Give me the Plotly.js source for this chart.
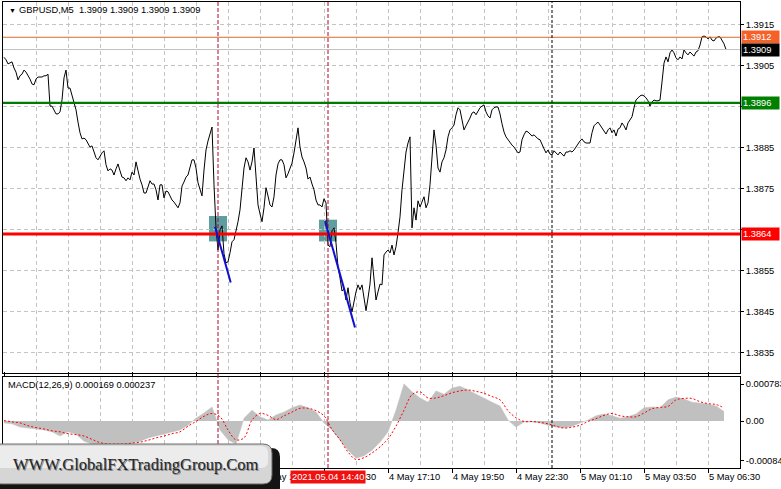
<!DOCTYPE html>
<html><head><meta charset="utf-8">
<script src="https://cdn.plot.ly/plotly-3.0.1.min.js"></script>
<style>html,body{margin:0;padding:0;background:#fff;}#chart{width:781px;height:489px;}</style>
</head><body><div id="chart"></div>
<script>
// ---------------- DATA ----------------
const symbolHeader = 'GBPUSD,M5  1.3909 1.3909 1.3909 1.3909';
const macdHeader = 'MACD(12,26,9) 0.000169 0.000237';
const watermarkText = 'WWW.GlobalFXTradingGroup.Com';
const firstBarUTC = Date.UTC(2021, 4, 4, 1, 10); // 4 May 2021 01:10
const barMinutes = 5;

// M5 close prices, one per bar from 4 May 01:10
const closes = [
1.39071,1.39065,1.39055,1.39057,1.39060,1.39045,1.39035,1.39016,1.39026,1.39030,
1.39040,1.39035,1.39028,1.39018,1.39006,1.39004,1.39018,1.39023,1.39023,1.39023,
1.39026,1.39026,1.39030,1.38952,1.38952,1.38943,1.38933,1.38933,1.38938,1.38967,
1.39021,1.39040,1.38996,1.38996,1.38977,1.38957,1.38943,1.38913,1.38887,1.38872,
1.38874,1.38870,1.38860,1.38852,1.38855,1.38838,1.38826,1.38821,1.38830,1.38838,
1.38843,1.38809,1.38794,1.38799,1.38796,1.38784,1.38799,1.38811,1.38794,1.38779,
1.38777,1.38770,1.38777,1.38772,1.38791,1.38784,1.38816,1.38791,1.38774,1.38760,
1.38740,1.38740,1.38753,1.38770,1.38762,1.38762,1.38748,1.38723,1.38760,1.38760,
1.38728,1.38745,1.38743,1.38731,1.38723,1.38718,1.38711,1.38704,1.38716,1.38757,
1.38767,1.38779,1.38784,1.38806,1.38821,1.38821,1.38801,1.38765,1.38748,1.38733,
1.38796,1.38845,1.38867,1.38884,1.38901,1.38760,1.38655,1.38601,1.38650,1.38660,
1.38592,1.38570,1.38572,1.38594,1.38621,1.38626,1.38645,1.38670,1.38699,1.38760,
1.38801,1.38826,1.38816,1.38796,1.38816,1.38850,1.38791,1.38711,1.38689,1.38670,
1.38704,1.38753,1.38733,1.38711,1.38706,1.38731,1.38784,1.38811,1.38821,1.38821,
1.38809,1.38777,1.38787,1.38801,1.38813,1.38838,1.38870,1.38899,1.38852,1.38828,
1.38816,1.38801,1.38774,1.38779,1.38762,1.38748,1.38723,1.38711,1.38711,1.38706,
1.38726,1.38716,1.38613,1.38609,1.38648,1.38655,1.38618,1.38560,1.38533,1.38501,
1.38506,1.38479,1.38509,1.38472,1.38450,1.38479,1.38499,1.38516,1.38504,1.38516,
1.38489,1.38453,1.38484,1.38518,1.38582,1.38531,1.38479,1.38499,1.38518,1.38516,
1.38589,1.38596,1.38601,1.38594,1.38613,1.38589,1.38609,1.38643,1.38682,1.38748,
1.38801,1.38840,1.38862,1.38877,1.38655,1.38704,1.38674,1.38721,1.38706,1.38718,
1.38731,1.38704,1.38716,1.38760,1.38840,1.38894,1.38857,1.38801,1.38791,1.38816,
1.38826,1.38845,1.38877,1.38894,1.38899,1.38906,1.38931,1.38948,1.38943,1.38918,
1.38894,1.38904,1.38913,1.38923,1.38935,1.38938,1.38931,1.38940,1.38948,1.38952,
1.38955,1.38938,1.38928,1.38923,1.38943,1.38948,1.38950,1.38950,1.38933,1.38909,
1.38889,1.38877,1.38870,1.38862,1.38857,1.38852,1.38845,1.38838,1.38840,1.38870,
1.38882,1.38891,1.38889,1.38884,1.38879,1.38882,1.38877,1.38872,1.38870,1.38857,
1.38848,1.38838,1.38845,1.38835,1.38833,1.38843,1.38838,1.38833,1.38840,1.38835,
1.38830,1.38840,1.38840,1.38843,1.38840,1.38845,1.38852,1.38862,1.38867,1.38872,
1.38865,1.38862,1.38862,1.38862,1.38887,1.38904,1.38909,1.38913,1.38906,1.38899,
1.38894,1.38884,1.38894,1.38899,1.38887,1.38894,1.38879,1.38896,1.38899,1.38911,
1.38904,1.38894,1.38911,1.38918,1.38926,1.38948,1.38967,1.38972,1.38977,1.38979,
1.38977,1.38972,1.38965,1.38952,1.38962,1.38967,1.38965,1.38965,1.38967,1.39011,
1.39057,1.39072,1.39060,1.39082,1.39089,1.39082,1.39070,1.39065,1.39072,1.39067,
1.39089,1.39082,1.39077,1.39084,1.39079,1.39074,1.39084,1.39087,1.39101,1.39121,
1.39123,1.39121,1.39116,1.39121,1.39113,1.39111,1.39118,1.39121,1.39121,1.39113,
1.39104,1.39090
];

// MACD(12,26,9), read every 4th bar
const macdEvery = 4;
const macdMain = [
-0.00004,-0.00006,-0.00013,-0.00015,-0.00017,-0.00019,-0.00023,-0.00032,-0.00023,-0.00028,
-0.00043,-0.00049,-0.00053,-0.00055,-0.00055,-0.00053,-0.00047,-0.00043,-0.00036,-0.00032,
-0.00028,-0.00023,-0.00019,-0.00009,0.00006,0.00017,0.00030,-0.00019,-0.00040,-0.00049,
0.00006,0.00023,0.00009,0.00002,0.00013,0.00019,0.00028,0.00034,0.00028,0.00019,
-0.00004,-0.00019,-0.00040,-0.00062,-0.00079,-0.00074,-0.00062,-0.00045,-0.00023,0.00023,
0.00079,0.00062,0.00049,0.00040,0.00064,0.00057,0.00070,0.00074,0.00066,0.00057,
0.00049,0.00040,0.00032,0.00002,-0.00013,-0.00002,-0.00002,-0.00004,-0.00009,-0.00013,
-0.00015,-0.00011,-0.00004,0.00002,0.00011,0.00015,0.00011,0.00006,0.00009,0.00015,
0.00028,0.00030,0.00028,0.00045,0.00051,0.00047,0.00040,0.00038,0.00036,0.00032,
0.00020
];
const macdSignal = [
0.00001,-0.00002,-0.00004,-0.00010,-0.00014,-0.00017,-0.00021,-0.00023,-0.00027,-0.00029,
-0.00032,-0.00039,-0.00046,-0.00049,-0.00049,-0.00049,-0.00047,-0.00045,-0.00041,-0.00036,
-0.00032,-0.00027,-0.00023,-0.00011,-0.00001,0.00010,0.00016,0.00009,-0.00019,-0.00040,
-0.00036,0.00002,0.00016,0.00012,0.00003,0.00011,0.00019,0.00027,0.00027,0.00022,
0.00011,-0.00018,-0.00040,-0.00066,-0.00082,-0.00078,-0.00068,-0.00055,-0.00038,-0.00011,
0.00023,0.00056,0.00062,0.00049,0.00049,0.00054,0.00060,0.00064,0.00066,0.00063,
0.00059,0.00052,0.00045,0.00022,0.00007,-0.00001,-0.00001,-0.00003,-0.00006,-0.00011,
-0.00015,-0.00013,-0.00009,-0.00001,0.00005,0.00012,0.00016,0.00011,0.00009,0.00009,
0.00017,0.00026,0.00029,0.00031,0.00045,0.00048,0.00048,0.00041,0.00037,0.00035,
0.00028
];

// horizontal price levels
const levelPrices = [1.3912, 1.3909, 1.3896, 1.3864];
const levelTexts  = ['1.3912', '1.3909', '1.3896', '1.3864'];

// price axis ticks (1.3865 and 1.3895 sit under the level labels)
const priceTicks = [1.3835, 1.3845, 1.3855, 1.3865, 1.3875, 1.3885, 1.3895, 1.3905, 1.3915];
const priceTickTexts = ['1.3835', '1.3845', '1.3855', '', '1.3875', '1.3885', '', '1.3905', '1.3915'];
// MACD axis ticks
const macdTickVals = [0.000783, 0, -0.000847];
const macdTickTexts = ['0.000783', '0.00', '-0.000847'];

// time axis labels (every 32 bars); the first four sit under the watermark panel
const timeLabels = ['', '', '', '', '4 May 11:50', '4 May 14:30',
                    '4 May 17:10', '4 May 19:50', '4 May 22:30', '5 May 01:10', '5 May 03:50', '5 May 06:30'];

// signal markers
const signalTimes = ['2021-05-04 10:05:00', '2021-05-04 14:40:00'];
const signalLabel = '2021.05.04 14:40';
const daySeparator = '2021-05-05 00:00:00';
const zoneStart = ['2021-05-04 09:42:30', '2021-05-04 14:17:30'];
const zoneEnd   = ['2021-05-04 10:27:30', '2021-05-04 15:02:30'];
const zoneLow   = [1.38622, 1.38622];
const zoneHigh  = [1.38684, 1.38675];
const trendT0 = ['2021-05-04 09:57:30', '2021-05-04 14:32:30'];
const trendP0 = [1.38658, 1.38672];
const trendT1 = ['2021-05-04 10:36:45', '2021-05-04 15:47:30'];
const trendP1 = [1.38522, 1.38412];

// ---------------- HELPERS ----------------
function barTime(i) {
  const d = new Date(firstBarUTC + i * barMinutes * 60000);
  return d.toISOString().slice(0, 19).replace('T', ' ');
}
const W = 781, H = 489;
const M = {l: 3, r: 41, t: 2, b: 21};
const PW = W - M.l - M.r, PH = H - M.t - M.b;
const px = x => (x - M.l) / PW;
const py = y => (H - M.b - y) / PH;
function roundRect(x0, y0, x1, y1, r) {
  const P = (x, y) => px(x).toFixed(5) + ',' + py(y).toFixed(5);
  return 'M' + P(x0 + r, y0) + ' L' + P(x1 - r, y0) + ' Q' + P(x1, y0) + ' ' + P(x1, y0 + r) +
    ' L' + P(x1, y1 - r) + ' Q' + P(x1, y1) + ' ' + P(x1 - r, y1) +
    ' L' + P(x0 + r, y1) + ' Q' + P(x0, y1) + ' ' + P(x0, y1 - r) +
    ' L' + P(x0, y0 + r) + ' Q' + P(x0, y0) + ' ' + P(x0 + r, y0) + ' Z';
}

// ---------------- STYLE ----------------
const FONT = 'Liberation Sans, Arial, sans-serif';
const levelStyle = [
  {line: '#d9692a', width: 1, bg: '#f4622a'},
  {line: '#c0c0c0', width: 1, bg: '#000000'},
  {line: '#007a00', width: 2.2, bg: '#008000'},
  {line: '#ff0000', width: 3, bg: '#ff0000'}
];

// ---------------- TRACES ----------------
const priceX = closes.map((_, i) => barTime(i));
const macdX = macdMain.map((_, j) => barTime(j * macdEvery));

const traces = [
  {x: priceX, y: closes, type: 'scatter', mode: 'lines', xaxis: 'x', yaxis: 'y',
   line: {color: '#000000', width: 1}, hoverinfo: 'skip'},
  {x: macdX, y: macdMain, type: 'scatter', mode: 'lines', xaxis: 'x', yaxis: 'y2',
   fill: 'tozeroy', fillcolor: '#c0c0c0', line: {color: '#c0c0c0', width: 0.5}, hoverinfo: 'skip'},
  {x: macdX, y: macdSignal, type: 'scatter', mode: 'lines', xaxis: 'x', yaxis: 'y2',
   line: {color: '#ff0000', width: 1, dash: '2px,2px', shape: 'spline'}, hoverinfo: 'skip'}
];

// ---------------- SHAPES ----------------
const shapes = [];
zoneStart.forEach((t, k) => shapes.push({type: 'rect', xref: 'x', yref: 'y', layer: 'below',
  x0: t, x1: zoneEnd[k], y0: zoneLow[k], y1: zoneHigh[k], fillcolor: '#5f9ea0', line: {width: 0}}));
levelPrices.forEach((p, k) => shapes.push({type: 'line', xref: 'paper', yref: 'y', layer: 'above',
  x0: 0, x1: 1, y0: p, y1: p, line: {color: levelStyle[k].line, width: levelStyle[k].width}}));
signalTimes.forEach(t => shapes.push({type: 'line', xref: 'x', yref: 'paper', layer: 'above',
  x0: t, x1: t, y0: 0, y1: 1, line: {color: '#b00830', width: 1, dash: '4px,2px'}}));
shapes.push({type: 'line', xref: 'x', yref: 'paper', layer: 'above',
  x0: daySeparator, x1: daySeparator, y0: 0, y1: 1, line: {color: '#000000', width: 1, dash: '3px,2px'}});
trendT0.forEach((t, k) => shapes.push({type: 'line', xref: 'x', yref: 'y', layer: 'above',
  x0: t, y0: trendP0[k], x1: trendT1[k], y1: trendP1[k], line: {color: '#1010d0', width: 2}}));
// watermark panel
shapes.push({type: 'path', xref: 'paper', yref: 'paper', layer: 'above',
  path: roundRect(-8, 448, 280, 496, 9), fillcolor: '#141414', line: {width: 0}});
shapes.push({type: 'path', xref: 'paper', yref: 'paper', layer: 'above',
  path: roundRect(-8, 444, 272, 484, 9), fillcolor: '#d6d6d6', line: {color: '#6a6a6a', width: 1}});
shapes.push({type: 'path', xref: 'paper', yref: 'paper', layer: 'above',
  path: roundRect(-6, 446, 268, 468, 7), fillcolor: '#ececec', line: {width: 0}});

// ---------------- ANNOTATIONS ----------------
const ann = [];
ann.push({xref: 'paper', yref: 'paper', x: px(7), y: py(10), xanchor: 'left', yanchor: 'middle',
  text: '▼', showarrow: false, font: {family: FONT, size: 7, color: '#000'}});
ann.push({xref: 'paper', yref: 'paper', x: px(17), y: py(10), xanchor: 'left', yanchor: 'middle',
  text: symbolHeader, showarrow: false, font: {family: FONT, size: 9.3, color: '#000'}});
ann.push({xref: 'paper', yref: 'paper', x: px(6), y: py(385), xanchor: 'left', yanchor: 'middle',
  text: macdHeader, showarrow: false, font: {family: FONT, size: 9.3, color: '#000'}});
levelPrices.forEach((p, k) => ann.push({xref: 'paper', yref: 'y', x: 1, y: p, xanchor: 'left', yanchor: 'middle',
  xshift: 1, text: levelTexts[k], showarrow: false, bgcolor: levelStyle[k].bg, borderpad: 1,
  width: 35, align: 'left', font: {family: FONT, size: 9.3, color: '#ffffff'}}));
ann.push({xref: 'x', yref: 'paper', x: signalTimes[1], y: py(477), xanchor: 'center', yanchor: 'middle',
  text: signalLabel, showarrow: false, bgcolor: '#f01010', borderpad: 1,
  font: {family: FONT, size: 9.3, color: '#ffffff'}});
ann.push({xref: 'paper', yref: 'paper', x: px(136), y: py(464), xanchor: 'center', yanchor: 'middle',
  xshift: 1, yshift: -1, text: watermarkText, showarrow: false,
  font: {family: 'Liberation Serif, Times New Roman, serif', size: 16.5, color: '#8a8a8a'}});
ann.push({xref: 'paper', yref: 'paper', x: px(136), y: py(464), xanchor: 'center', yanchor: 'middle',
  text: watermarkText, showarrow: false,
  font: {family: 'Liberation Serif, Times New Roman, serif', size: 16.5, color: '#262626'}});

// ---------------- LAYOUT ----------------
const majorTicks = timeLabels.map((_, k) => barTime(32 * k));
const minorTicks = timeLabels.map((_, k) => barTime(32 * k + 16));

const layout = {
  width: W, height: H, margin: M, showlegend: false,
  paper_bgcolor: '#ffffff', plot_bgcolor: '#ffffff',
  font: {family: FONT, size: 9.3, color: '#000'},
  xaxis: {
    type: 'date', range: [barTime(-0.5), barTime(368)], anchor: 'y2',
    tickmode: 'array', tickvals: majorTicks, ticktext: timeLabels,
    ticklabelposition: 'outside right', ticks: 'outside', ticklen: 4, tickcolor: '#000',
    showgrid: true, gridcolor: '#c4c4c4', griddash: '4px,3px', gridwidth: 1,
    minor: {tickmode: 'array', tickvals: minorTicks, showgrid: true, gridcolor: '#c4c4c4', griddash: '4px,3px', ticks: ''},
    showline: true, mirror: 'all', linecolor: '#000', linewidth: 1,
    zeroline: false, automargin: false, fixedrange: true,
    tickfont: {family: FONT, size: 9.3, color: '#000'}
  },
  yaxis: {
    domain: [py(373), 1], range: [1.38301, 1.39206], side: 'right', anchor: 'x',
    tickmode: 'array', tickvals: priceTicks, ticktext: priceTickTexts,
    ticks: 'outside', ticklen: 3, tickcolor: '#000',
    showgrid: true, gridcolor: '#c4c4c4', griddash: '4px,3px',
    showline: true, mirror: true, linecolor: '#000', linewidth: 1,
    zeroline: false, automargin: false, fixedrange: true,
    tickfont: {family: FONT, size: 9.3, color: '#000'}
  },
  yaxis2: {
    domain: [0, py(377)], range: [-0.001, 0.000936], side: 'right', anchor: 'x',
    tickmode: 'array', tickvals: macdTickVals, ticktext: macdTickTexts,
    ticks: 'outside', ticklen: 3, tickcolor: '#000',
    showgrid: false, showline: true, mirror: true, linecolor: '#000', linewidth: 1,
    zeroline: false, automargin: false, fixedrange: true,
    tickfont: {family: FONT, size: 9.3, color: '#000'}
  },
  shapes: shapes,
  annotations: ann
};

Plotly.newPlot('chart', traces, layout, {staticPlot: true, displayModeBar: false});
</script>
</body></html>
